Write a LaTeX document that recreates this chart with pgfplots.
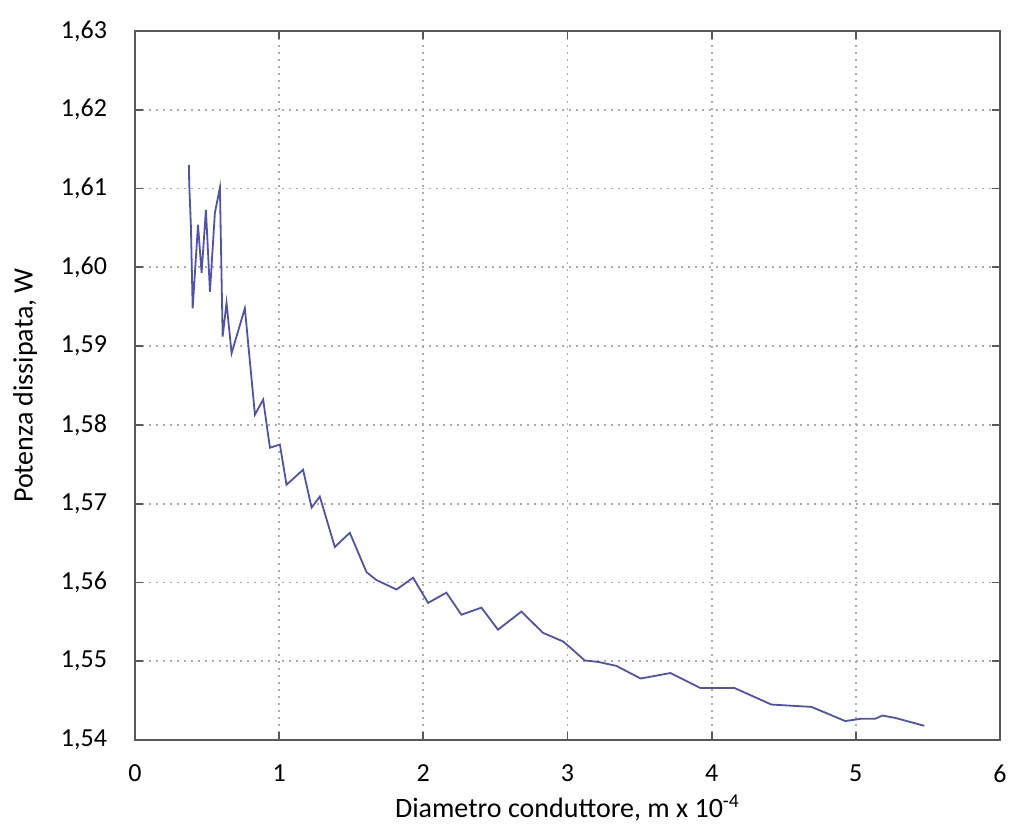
\documentclass[border=0pt]{standalone}
\usepackage{fontspec}
\setmainfont{Carlito}
\usepackage{pgfplots}
\pgfplotsset{compat=1.18}
\definecolor{linecol}{RGB}{82,82,172}
\definecolor{axcol}{RGB}{90,90,90}
\begin{document}
\begin{tikzpicture}
\begin{axis}[
  name=ax,
  scale only axis,
  width=432.5pt, height=354.5pt,
  xmin=0, xmax=6, ymin=1.54, ymax=1.63,
  xtick={0,1,2,3,4,5,6},
  ytick={1.54,1.55,1.56,1.57,1.58,1.59,1.60,1.61,1.62,1.63},
  grid=major,
  major grid style={dash pattern=on 1.1pt off 2.4pt, gray!65, line width=0.9pt},
  axis line style={axcol, line width=0.9pt},
  tick style={axcol, line width=0.9pt},
  tick align=inside,
  major tick length=4pt,
  /pgf/number format/assume math mode=true,
  ticklabel style={font=\fontsize{13}{15}\selectfont},
  yticklabel style={/pgf/number format/.cd, fixed, fixed zerofill, precision=2, use comma, /tikz/.cd, xshift=-10.5pt},
  xticklabel style={yshift=-9pt},
  xlabel={Diametro conduttore, m x 10\textsuperscript{-4}},
  ylabel={Potenza dissipata, W},
  label style={font=\fontsize{14}{16}\selectfont},
  xlabel style={yshift=1pt},
  ylabel style={yshift=5pt},
]
\addplot[color=linecol, line width=0.9pt] coordinates {
(0.374,1.6130)(0.376,1.6107)(0.388,1.6051)(0.400,1.5948)(0.437,1.6054)
(0.462,1.5993)(0.492,1.6073)(0.520,1.5969)(0.554,1.6069)(0.589,1.6101)
(0.608,1.5912)(0.635,1.5955)(0.670,1.5891)(0.762,1.5948)(0.832,1.5813)
(0.889,1.5832)(0.936,1.5771)(1.005,1.5775)(1.051,1.5724)(1.166,1.5743)
(1.225,1.5695)(1.282,1.5709)(1.386,1.5645)(1.490,1.5663)(1.606,1.5613)
(1.675,1.5603)(1.814,1.5591)(1.929,1.5606)(2.033,1.5574)(2.160,1.5587)
(2.264,1.5559)(2.403,1.5568)(2.518,1.5540)(2.680,1.5563)(2.830,1.5536)
(2.970,1.5525)(3.015,1.5518)(3.119,1.5501)(3.216,1.5499)(3.340,1.5494)
(3.507,1.5478)(3.714,1.5485)(3.922,1.5466)(4.158,1.5466)(4.414,1.5445)
(4.692,1.5442)(4.927,1.5424)(5.038,1.5427)(5.135,1.5427)(5.184,1.5431)
(5.274,1.5428)(5.475,1.5418)
};
\end{axis}
\pgfresetboundingbox
\path ([shift={(-67.5pt,-44.5pt)}]ax.south west) rectangle ([shift={(8pt,15.5pt)}]ax.north east);
\end{tikzpicture}
\end{document}
